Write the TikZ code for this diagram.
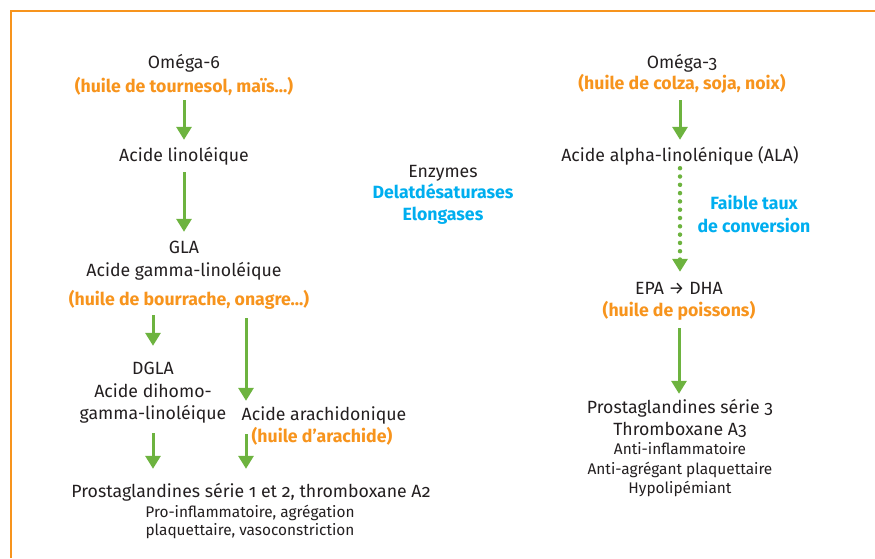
\documentclass[tikz,border=0pt]{standalone}
\usepackage{fontspec}
\setmainfont{Fira Sans}[Numbers=OldStyle]
\usetikzlibrary{arrows.meta}
\definecolor{oilorange}{HTML}{F7941D}
\definecolor{leafgreen}{HTML}{6DB33F}
\definecolor{enzblue}{HTML}{00AEEF}
\definecolor{inkgrey}{HTML}{231F20}
\tikzset{
  line/.style={inner sep=0pt, text height=12pt, text depth=4pt, anchor=base,
    text=inkgrey, font=\fontsize{17.7}{21}\selectfont},
  note/.style={line, text height=10pt, text depth=3pt, font=\fontsize{15.4}{18}\selectfont},
  oil/.style={line, text=oilorange, font=\fontsize{17.7}{21}\selectfont\bfseries},
  enz/.style={line, text=enzblue, font=\fontsize{17.7}{21}\selectfont\bfseries},
  flow/.style={leafgreen, line width=3pt, shorten <=6pt, shorten >=9pt,
    -{Triangle[length=13pt,width=15pt]}},
  slow/.style={flow, line cap=round, dash pattern=on 0pt off 8.3pt, line width=4.5pt}
}
\begin{document}
\begin{tikzpicture}[x=1pt,y=-1pt]
  \useasboundingbox (0,0) rectangle (875,558);
  \coordinate (branch) at (246,0);

  % frame
  \draw [oilorange, line width=2pt] (11,558) -- (11,11) -- (875,11);

  % omega 6 side
  \node [line] (o6) at (184,68) {Oméga-6};
  \node [oil] (o6oil) at (184,92) {(huile de tournesol, maïs...)};
  \node [line] (lino) at (184,161) {Acide linoléique};
  \node [line] (gla) at (184,253) {GLA};
  \node [line] (glaname) at (184,276) {Acide gamma-linoléique};
  \node [oil] (glaoil) at (189,305) {(huile de bourrache, onagre...)};
  \node [line] (dgla) at (153,374) {DGLA};
  \node [line] (dglaA) at (153,397) {Acide dihomo-};
  \node [line] (dglaB) at (153,419) {gamma-linoléique};
  \node [line] (ara) at (324,420) {Acide arachidonique};
  \node [oil] (araoil) at (322,442) {(huile d’arachide)};
  \node [line] (pg) at (251,497) {Prostaglandines série 1 et 2, thromboxane A2};
  \node [note] (pgA) at (250,517) {Pro-inflammatoire, agrégation};
  \node [note] (pgB) at (250,535) {plaquettaire, vasoconstriction};

  % enzymes
  \node [line] (enz) at (443,177) {Enzymes};
  \node [enz] (desat) at (443,198) {Delatdésaturases};
  \node [enz] (elong) at (443,220) {Elongases};

  % omega 3 side
  \node [line] (o3) at (682,68) {Oméga-3};
  \node [oil] (o3oil) at (682,89) {(huile de colza, soja, noix)};
  \node [line] (ala) at (680,161) {Acide alpha-linolénique (ALA)};
  \node [enz] (faible) at (754,209) {Faible taux};
  \node [enz] (conv) at (754,232) {de conversion};
  \node [line] (epa) at (679,294) {EPA → DHA};
  \node [oil] (epaoil) at (679,316) {(huile de poissons)};
  \node [line] (pg3) at (680,413) {Prostaglandines série 3};
  \node [line] (tx3) at (680,435) {Thromboxane A3};
  \node [note] (anti1) at (680,454) {Anti-inflammatoire};
  \node [note] (anti2) at (680,474) {Anti-agrégant plaquettaire};
  \node [note] (hypo) at (680,493) {Hypolipémiant};

  % arrows
  \draw [flow, shorten <=4pt] (o6oil.south) -- (lino.north);
  \draw [flow, shorten <=7pt] (lino.south) -- (gla.north);
  \draw [flow, shorten >=16pt] (glaoil.south -| dgla.north) -- (dgla.north);
  \draw [flow, shorten <=9pt, shorten >=7pt] (glaoil.south -| branch) -- (ara.north -| branch);
  \draw [flow, shorten <=10pt, shorten >=16pt] (dglaB.south) -- (pg.north -| dglaB.south);
  \draw [flow, shorten <=10pt, shorten >=16pt] (ara.south -| branch) -- (pg.north -| branch);
  \draw [flow, shorten <=7pt] (o3oil.south -| ala.north) -- (ala.north);
  \draw [slow, shorten <=3pt, shorten >=10pt] (ala.south) -- (epa.north -| ala.south);
  \draw [flow, shorten <=8pt, shorten >=7pt] (epaoil.south) -- (pg3.north -| epaoil.south);
\end{tikzpicture}
\end{document}
